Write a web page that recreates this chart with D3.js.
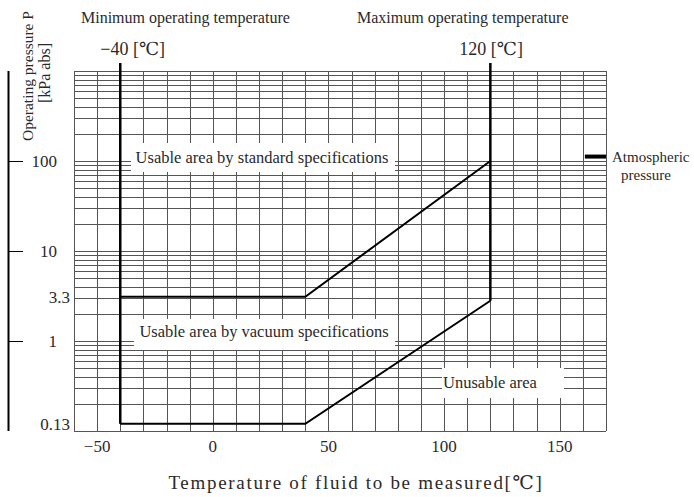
<!DOCTYPE html>
<html>
<head>
<meta charset="utf-8">
<script src="https://cdn.jsdelivr.net/npm/d3@7"></script>
<style>
  body { margin: 0; background: #fff; }
  text { font-family: "Liberation Serif", "DejaVu Serif", "Noto Sans CJK JP", serif; fill: #2a2a2a; }
</style>
</head>
<body>
<div id="chart"></div>
<script>

////////////////////////////////////////////////////////
// Data ////////////////////////////////////////////////
////////////////////////////////////////////////////////

var xTicks = [-50, 0, 50, 100, 150];
var yTicks = [100, 10, 1];
var yLabelValues = [100, 10, 3.1, 1, 0.12];
var yLabelTexts = ["100", "10", "3.3", "1", "0.13"];

// boundary between standard and vacuum specs [temp, kPa]
var upperBoundary = [[-40, 3.1], [40, 3.1], [120, 100]];
// lower limit of vacuum specs
var lowerBoundary = [[-40, 0.12], [40, 0.12], [120, 2.8]];

var minTemp = -40, maxTemp = 120;
var atmPressure = 112;

////////////////////////////////////////////////////////
// Options /////////////////////////////////////////////
////////////////////////////////////////////////////////

var cfg = {
  width: 694,
  height: 497,
  left: 74, right: 606, top: 71, bottom: 431,
  grid: "#555",
  font: 16.5
};

var x = d3.scaleLinear().domain([-60, 170]).range([cfg.left, cfg.right]);
var y = d3.scaleLog().domain([0.1, 1000]).range([cfg.bottom, cfg.top]);

var svg = d3.select("#chart").append("svg")
    .attr("width", cfg.width)
    .attr("height", cfg.height);

////////////////////////////////////////////////////////
// Grid ////////////////////////////////////////////////
////////////////////////////////////////////////////////

var hLines = [];
[0.1, 1, 10, 100].forEach(function(dec) {
  for (var k = 1; k < 10; k++) hLines.push(k * dec);
});
hLines.push(1000);

var grid = svg.append("g");

grid.selectAll(".h").data(hLines).enter().append("line")
    .attr("x1", cfg.left).attr("x2", cfg.right)
    .attr("y1", function(d) { return Math.round(y(d)) + 0.5; })
    .attr("y2", function(d) { return Math.round(y(d)) + 0.5; })
    .style("stroke", cfg.grid).style("stroke-width", 1);

grid.selectAll(".v").data(d3.range(-60, 171, 10)).enter().append("line")
    .attr("y1", cfg.top).attr("y2", cfg.bottom)
    .attr("x1", function(d) { return Math.round(x(d)) + 0.5; })
    .attr("x2", function(d) { return Math.round(x(d)) + 0.5; })
    .style("stroke", cfg.grid).style("stroke-width", 1);

////////////////////////////////////////////////////////
// Label boxes (white patches over the grid) ///////////
////////////////////////////////////////////////////////

var boxes = [
  { x: 131, y: 143, w: 264, h: 29, tx: 262, ty: 163, anchor: "middle", text: "Usable area by standard specifications" },
  { x: 134, y: 319, w: 261, h: 31, tx: 264, ty: 337, anchor: "middle", text: "Usable area by vacuum specifications" },
  { x: 442, y: 368, w: 122, h: 30, tx: 443, ty: 388, anchor: "start", text: "Unusable area" }
];

boxes.forEach(function(b) {
  svg.append("rect").attr("x", b.x).attr("y", b.y).attr("width", b.w).attr("height", b.h)
      .style("fill", "#fff");
  svg.append("text").attr("x", b.tx).attr("y", b.ty)
      .attr("text-anchor", b.anchor)
      .style("font-size", cfg.font + "px")
      .text(b.text);
});

////////////////////////////////////////////////////////
// Boundaries //////////////////////////////////////////
////////////////////////////////////////////////////////

var line = d3.line()
    .x(function(d) { return x(d[0]); })
    .y(function(d) { return y(d[1]); });

[upperBoundary, lowerBoundary].forEach(function(d) {
  svg.append("path").attr("d", line(d))
      .style("fill", "none").style("stroke", "#000").style("stroke-width", 2);
});

svg.append("line")
    .attr("x1", x(minTemp)).attr("x2", x(minTemp))
    .attr("y1", cfg.top - 8).attr("y2", y(lowerBoundary[0][1]))
    .style("stroke", "#000").style("stroke-width", 2.5);

svg.append("line")
    .attr("x1", x(maxTemp)).attr("x2", x(maxTemp))
    .attr("y1", cfg.top - 8).attr("y2", y(lowerBoundary[2][1]))
    .style("stroke", "#000").style("stroke-width", 2.5);

// atmospheric pressure marker
svg.append("line")
    .attr("x1", x(160) + 2).attr("x2", cfg.right)
    .attr("y1", y(atmPressure)).attr("y2", y(atmPressure))
    .style("stroke", "#000").style("stroke-width", 4);

svg.append("text").attr("x", 612).attr("y", y(atmPressure) + 5)
    .style("font-size", "15px").text("Atmospheric");
svg.append("text").attr("x", 621).attr("y", y(atmPressure) + 23)
    .style("font-size", "15px").text("pressure");

////////////////////////////////////////////////////////
// Temperature limits //////////////////////////////////
////////////////////////////////////////////////////////

svg.append("text").attr("x", 81).attr("y", 23)
    .style("font-size", "16px").text("Minimum operating temperature");
svg.append("text").attr("x", 357).attr("y", 23)
    .style("font-size", "16px").text("Maximum operating temperature");

svg.append("text").attr("x", x(minTemp) - 20).attr("y", 55)
    .style("font-size", "18px").text("\u221240 [\u2103]");
svg.append("text").attr("x", x(maxTemp) - 31).attr("y", 55)
    .style("font-size", "18px").text("120 [\u2103]");

////////////////////////////////////////////////////////
// Axes ////////////////////////////////////////////////
////////////////////////////////////////////////////////

svg.selectAll(".xt").data(xTicks).enter().append("text")
    .attr("x", function(d) { return x(d); })
    .attr("y", 452)
    .attr("text-anchor", "middle")
    .style("font-size", "17px")
    .text(function(d) { return d < 0 ? "\u2212" + Math.abs(d) : d; });

svg.append("text").attr("x", 356).attr("y", 489)
    .attr("text-anchor", "middle")
    .style("font-size", "19px")
    .style("letter-spacing", "1.7px")
    .text("Temperature of fluid to be measured[\u2103]");

// y axis sits apart from the grid
svg.append("line").attr("x1", 8.5).attr("x2", 8.5)
    .attr("y1", cfg.top).attr("y2", cfg.bottom)
    .style("stroke", "#000").style("stroke-width", 2);

svg.selectAll(".yt").data(yTicks).enter().append("line")
    .attr("x1", 8).attr("x2", 23)
    .attr("y1", function(d) { return Math.round(y(d)) + 0.5; })
    .attr("y2", function(d) { return Math.round(y(d)) + 0.5; })
    .style("stroke", "#000").style("stroke-width", 1);

svg.selectAll(".yl").data(yLabelValues).enter().append("text")
    .attr("x", function(d, i) { return (d === 3.1 || d === 0.12) ? 70 : 57; })
    .attr("y", function(d) { return y(d) + 6; })
    .attr("text-anchor", "end")
    .style("font-size", "17px")
    .text(function(d, i) { return yLabelTexts[i]; });

svg.append("text")
    .attr("transform", "translate(33,76) rotate(-90)")
    .attr("text-anchor", "middle")
    .style("font-size", "15.5px")
    .text("Operating pressure P");
svg.append("text")
    .attr("transform", "translate(50,73) rotate(-90)")
    .attr("text-anchor", "middle")
    .style("font-size", "16px")
    .text("[kPa abs]");

</script>
</body>
</html>
